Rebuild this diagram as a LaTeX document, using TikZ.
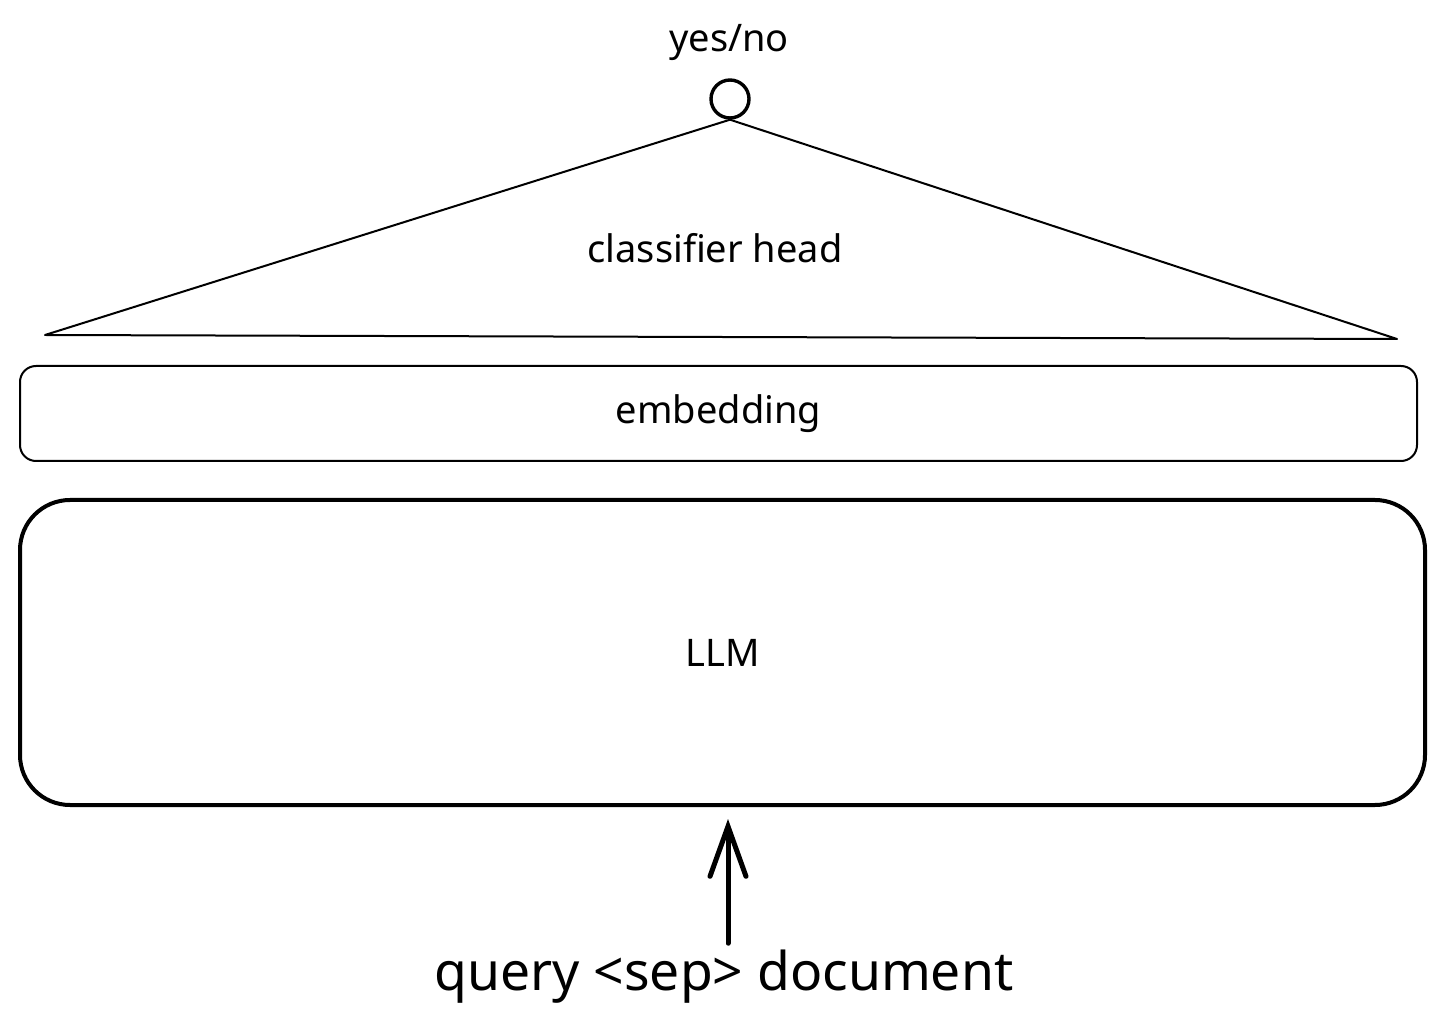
\documentclass[tikz,border=0pt]{standalone}
\usepackage{fontspec}
\setmainfont{Noto Sans}
\usetikzlibrary{arrows.meta,positioning}

\begin{document}
\begin{tikzpicture}[x=0.5pt, y=-0.5pt, >={Straight Barb[length=25pt, width=18pt, line cap=round]}]
  \useasboundingbox (0,0) rectangle (1446,1031);

  % Output unit
  \node[font=\fontsize{19}{22}\selectfont] (yesno) at (729,43) {yes/no};
  \node[draw, circle, line width=1.7pt, minimum size=19pt, inner sep=0pt] (out) at (730,99) {};

  % Classifier head
  \coordinate (headl) at (45,335);
  \coordinate (headr) at (1397,339);
  \draw[line width=1pt, line join=round] (out.south) -- (headl) -- (headr) -- cycle;
  \node[font=\fontsize{19}{22}\selectfont] (head) at (715,248) {classifier head};

  % Embedding
  \node[draw, line width=1pt, rounded corners=8pt, minimum width=698.5pt, minimum height=47.5pt,
        font=\fontsize{19}{22}\selectfont] (emb) at (718.5,413.5) {embedding};

  % LLM
  \node[draw, line width=2pt, rounded corners=25pt, minimum width=702.5pt, minimum height=152.5pt,
        font=\fontsize{19}{22}\selectfont] (llm) at (722.5,652.5) {LLM};

  % Input
  \node[font=\fontsize{26.7}{32}\selectfont] (query) at (724,977) {query <sep> document};
  \draw[->, line width=2.5pt, line cap=round, shorten >=6pt] (query.north -| 728,0) -- (llm.south -| 728,0);
\end{tikzpicture}
\end{document}
